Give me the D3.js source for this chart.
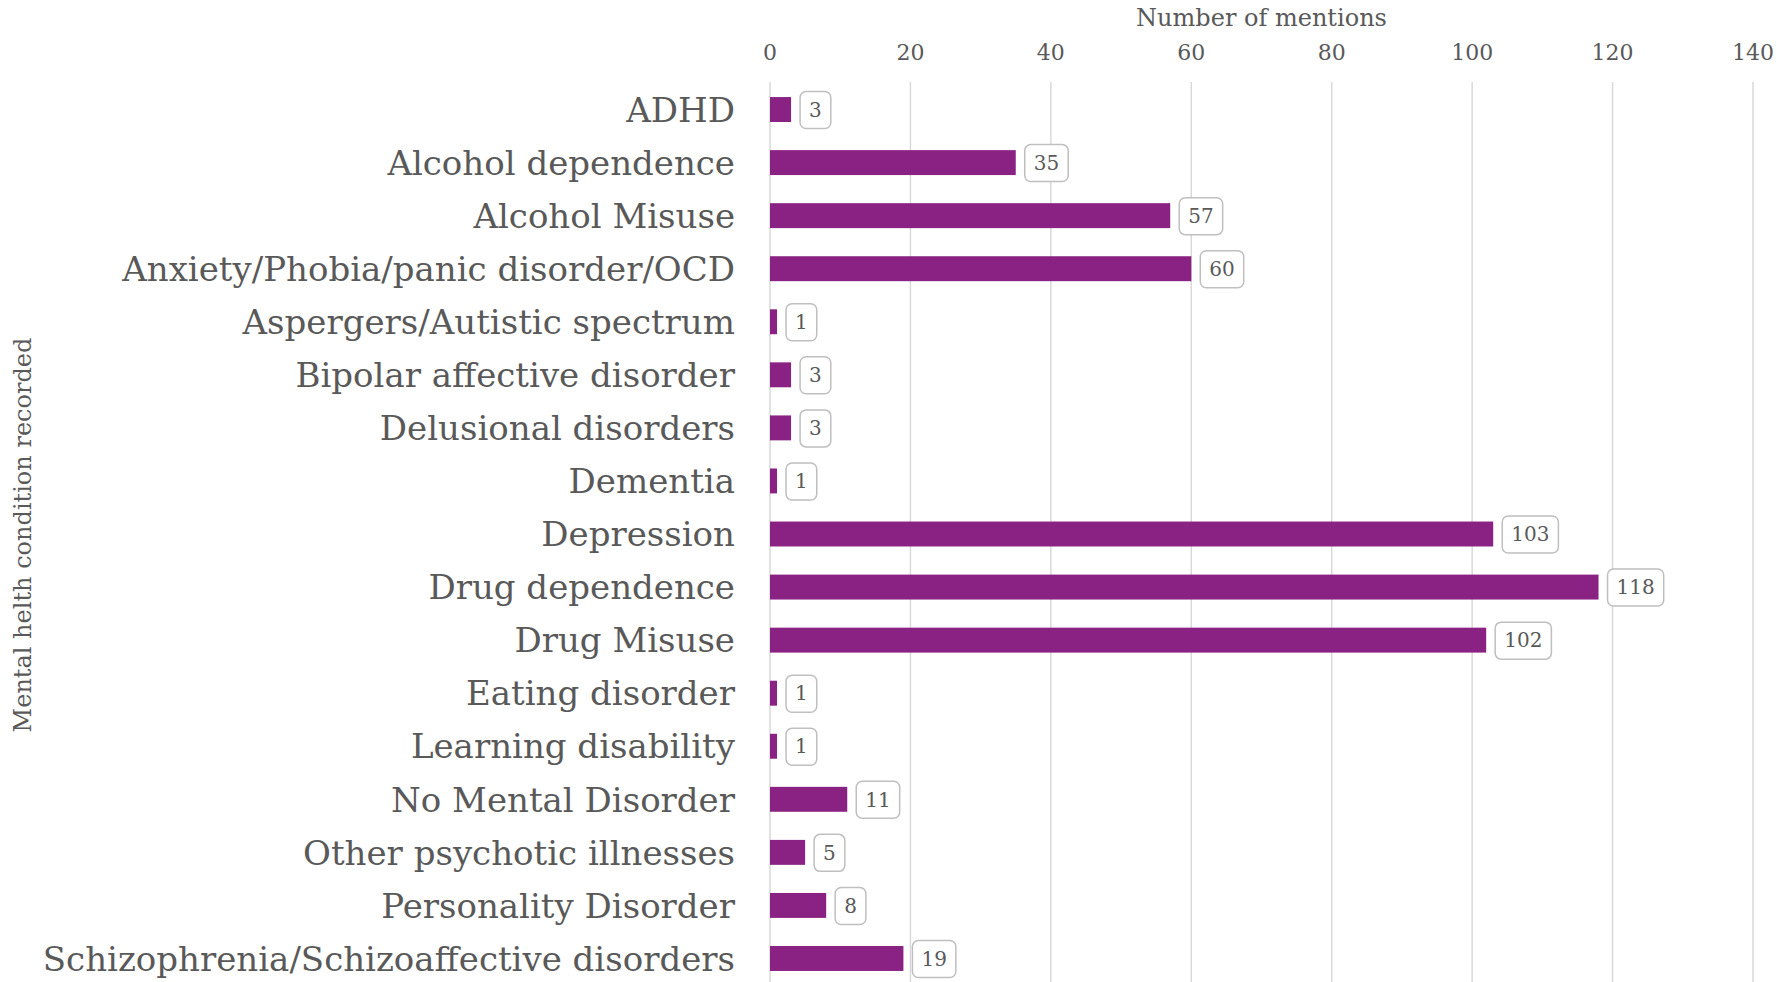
<!DOCTYPE html>
<html>
<head>
<meta charset="utf-8">
<script src="https://cdn.jsdelivr.net/npm/d3@7"></script>
<style>
    body { margin: 0; background: #fff; }
    svg { display: block; }
    text { font-family: Rockwell, "DejaVu Serif", serif; fill: #595959; }
</style>
</head>
<body>
<svg id="chart"></svg>
<script>
// Chart data
const categories = [
    "ADHD", "Alcohol dependence", "Alcohol Misuse", "Anxiety/Phobia/panic disorder/OCD",
    "Aspergers/Autistic spectrum", "Bipolar affective disorder", "Delusional disorders",
    "Dementia", "Depression", "Drug dependence", "Drug Misuse", "Eating disorder",
    "Learning disability", "No Mental Disorder", "Other psychotic illnesses",
    "Personality Disorder", "Schizophrenia/Schizoaffective disorders"
];
const mentions = [3, 35, 57, 60, 1, 3, 3, 1, 103, 118, 102, 1, 1, 11, 5, 8, 19];
const xTicks = [0, 20, 40, 60, 80, 100, 120, 140];
const xTitle = "Number of mentions";
const yTitle = "Mental helth condition recorded";

const width = 1777;
const height = 982;
const margin = { top: 83, left: 770, right: 24 };
const svg = d3.select("#chart").attr("width", width).attr("height", height);

// Scales
const x = d3.scaleLinear().domain([0, 140]).range([margin.left, width - margin.right]);
const y = d3.scaleBand().domain(categories).range([margin.top, margin.top + 53.06 * categories.length]).paddingInner(0.53).paddingOuter(0.265);

// Gridlines
svg.append("g")
    .selectAll("line")
    .data(xTicks)
    .enter().append("line")
    .attr("x1", d => x(d)).attr("x2", d => x(d))
    .attr("y1", margin.top - 1).attr("y2", height)
    .style("stroke", "#d9d9d9")
    .style("stroke-width", 1.5);

// Top axis labels
svg.append("g")
    .selectAll("text")
    .data(xTicks)
    .enter().append("text")
    .attr("x", d => x(d))
    .attr("y", 60)
    .attr("text-anchor", "middle")
    .style("font-size", "22px")
    .text(d => d);

svg.append("text")
    .attr("x", (x(0) + x(140)) / 2)
    .attr("y", 26)
    .attr("text-anchor", "middle")
    .style("font-size", "24px")
    .text(xTitle);

// Y axis title
svg.append("text")
    .attr("transform", `translate(31,${535}) rotate(-90)`)
    .attr("text-anchor", "middle")
    .style("font-size", "24px")
    .text(yTitle);

// Category labels
svg.append("g")
    .selectAll("text")
    .data(categories)
    .enter().append("text")
    .attr("x", margin.left - 35)
    .attr("y", d => y(d) + y.bandwidth() / 2)
    .attr("dy", "0.36em")
    .attr("text-anchor", "end")
    .style("font-size", "34px")
    .text(d => d);

// Bars
const rows = categories.map((c, i) => ({ cat: c, value: mentions[i] }));
svg.append("g")
    .selectAll("rect")
    .data(rows)
    .enter().append("rect")
    .attr("x", x(0))
    .attr("y", d => y(d.cat))
    .attr("width", d => x(d.value) - x(0))
    .attr("height", y.bandwidth())
    .style("fill", "#8a2283");

// Value labels in boxes
const labels = svg.append("g")
    .selectAll("g")
    .data(rows)
    .enter().append("g")
    .attr("transform", d => `translate(${x(d.value) + 9},${y(d.cat) + y.bandwidth() / 2})`);

labels.append("text")
    .attr("y", 0)
    .attr("dy", "0.36em")
    .style("font-size", "20px")
    .text(d => d.value);

labels.each(function () {
    const g = d3.select(this);
    const t = g.select("text");
    const w = t.node().getComputedTextLength();
    const padX = 9;
    t.attr("x", padX);
    g.insert("rect", "text")
        .attr("x", 0)
        .attr("y", -18)
        .attr("width", w + padX * 2)
        .attr("height", 37)
        .attr("rx", 6)
        .attr("ry", 6)
        .style("fill", "#fff")
        .style("stroke", "#bfbfbf")
        .style("stroke-width", 1.5);
});
</script>
</body>
</html>
